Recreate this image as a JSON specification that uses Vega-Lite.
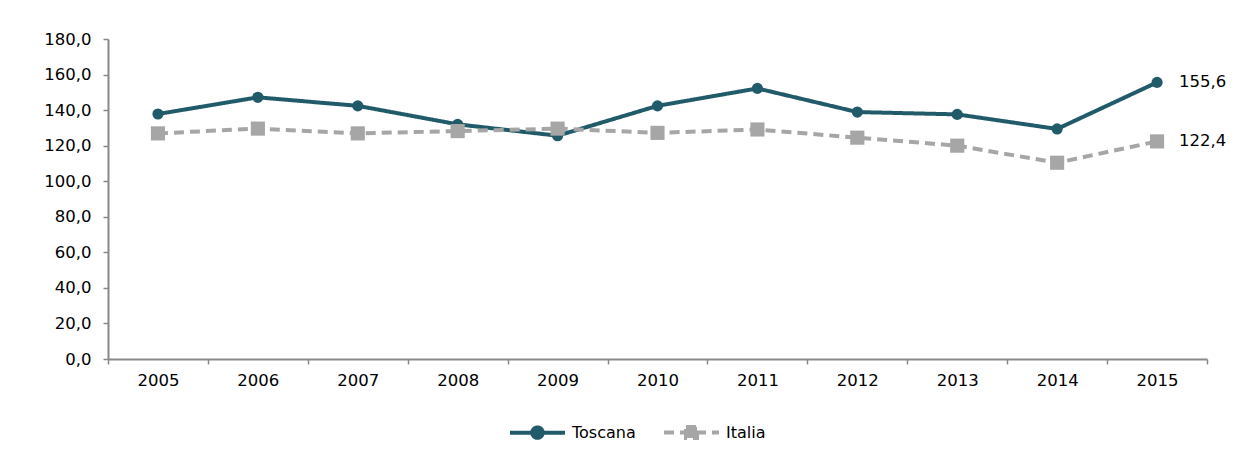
{
  "$schema": "https://vega.github.io/schema/vega-lite/v6.json",
  "width": 1099,
  "height": 320,
  "autosize": {"type": "none"},
  "padding": {"left": 108, "top": 39, "right": 27, "bottom": 103},
  "config": {
    "view": {"stroke": null},
    "font": "DejaVu Sans",
    "locale": {"number": {"decimal": ",", "thousands": ".", "grouping": [3], "currency": ["€", ""]}},
    "axis": {"grid": false, "domainColor": "#888888", "domainWidth": 2, "tickColor": "#888888", "tickWidth": 1.5, "tickSize": 5, "labelFontSize": 16.5, "labelColor": "#000000", "title": null}
  },
  "data": {
    "values": [
      {"year": "2005", "serie": "Toscana", "value": 137.8},
      {"year": "2006", "serie": "Toscana", "value": 147.2},
      {"year": "2007", "serie": "Toscana", "value": 142.4},
      {"year": "2008", "serie": "Toscana", "value": 132.0},
      {"year": "2009", "serie": "Toscana", "value": 125.6},
      {"year": "2010", "serie": "Toscana", "value": 142.4},
      {"year": "2011", "serie": "Toscana", "value": 152.2},
      {"year": "2012", "serie": "Toscana", "value": 138.9},
      {"year": "2013", "serie": "Toscana", "value": 137.6},
      {"year": "2014", "serie": "Toscana", "value": 129.4},
      {"year": "2015", "serie": "Toscana", "value": 155.6},
      {"year": "2005", "serie": "Italia", "value": 126.9},
      {"year": "2006", "serie": "Italia", "value": 129.6},
      {"year": "2007", "serie": "Italia", "value": 126.9},
      {"year": "2008", "serie": "Italia", "value": 128.2},
      {"year": "2009", "serie": "Italia", "value": 129.6},
      {"year": "2010", "serie": "Italia", "value": 127.2},
      {"year": "2011", "serie": "Italia", "value": 129.1},
      {"year": "2012", "serie": "Italia", "value": 124.5},
      {"year": "2013", "serie": "Italia", "value": 120.0},
      {"year": "2014", "serie": "Italia", "value": 110.4},
      {"year": "2015", "serie": "Italia", "value": 122.4}
    ]
  },
  "encoding": {
    "x": {"field": "year", "type": "ordinal", "scale": {"type": "band", "paddingInner": 0, "paddingOuter": 0}, "axis": {"tickBand": "extent", "labelAngle": 0, "labelPadding": 8}},
    "y": {"field": "value", "type": "quantitative", "scale": {"domain": [0, 180]}, "axis": {"values": [0, 20, 40, 60, 80, 100, 120, 140, 160, 180], "format": ".1f", "labelPadding": 12}},
    "color": {
      "field": "serie", "type": "nominal",
      "scale": {"domain": ["Toscana", "Italia"], "range": ["#215B6A", "#A6A6A6"]},
      "legend": {
        "orient": "none", "legendX": 400, "legendY": 364, "direction": "horizontal", "title": null,
        "symbolSize": 3025, "symbolStrokeWidth": 4, "labelFontSize": 16, "labelColor": "#000000",
        "columnPadding": 20, "labelOffset": 5,
        "encode": {
          "symbols": {
            "update": {
              "shape": {"signal": "datum.value === 'Toscana' ? 'M-1,0H1M0.19,0A0.19,0.19,0,1,1,-0.19,0A0.19,0.19,0,1,1,0.19,0Z' : 'M-1,0H1M-0.2,-0.2H0.2V0.2H-0.2Z'"},
              "strokeDash": {"signal": "datum.value === 'Toscana' ? [1,0] : [12,5]"},
              "fill": {"signal": "datum.value === 'Toscana' ? '#215B6A' : '#A6A6A6'"},
              "stroke": {"signal": "datum.value === 'Toscana' ? '#215B6A' : '#A6A6A6'"},
              "opacity": {"value": 1}
            }
          }
        }
      }
    }
  },
  "layer": [
    {
      "mark": {"type": "line", "strokeWidth": 4},
      "encoding": {
        "strokeDash": {"field": "serie", "type": "nominal", "scale": {"domain": ["Toscana", "Italia"], "range": [[1, 0], [10, 6]]}, "legend": null}
      }
    },
    {
      "transform": [{"filter": "datum.serie == 'Toscana'"}],
      "mark": {"type": "point", "shape": "circle", "filled": true, "opacity": 1, "size": 125}
    },
    {
      "transform": [{"filter": "datum.serie == 'Italia'"}],
      "mark": {"type": "point", "shape": "square", "filled": true, "opacity": 1, "size": 200}
    },
    {
      "transform": [{"filter": "datum.year == '2015'"}],
      "mark": {"type": "text", "align": "left", "baseline": "middle", "dx": 22, "fontSize": 16.5, "color": "#000000"},
      "encoding": {
        "color": {"value": "#000000"},
        "text": {"field": "value", "type": "quantitative", "format": ".1f"}
      }
    }
  ]
}
